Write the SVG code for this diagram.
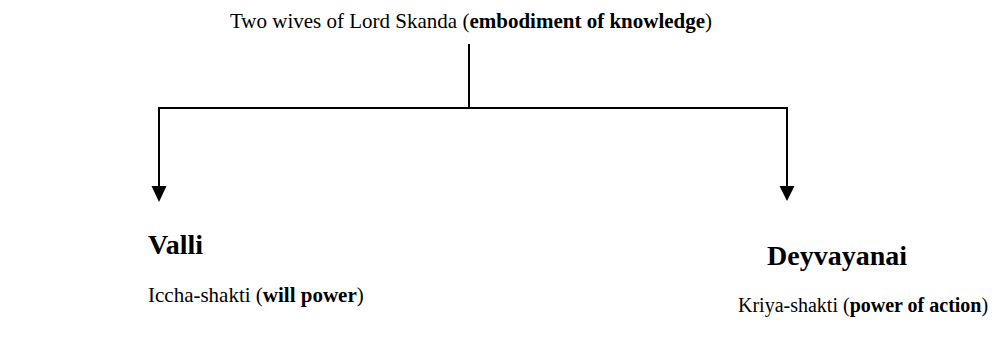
<svg xmlns="http://www.w3.org/2000/svg" width="992" height="350" viewBox="0 0 992 350">
<style>
text{font-family:"Liberation Serif","Times New Roman",serif;fill:#000;font-size:21px}
.h{font-size:28px;font-weight:bold}
.k{font-size:20px}
.b{font-weight:bold}
.ln{stroke:#000;stroke-width:2;fill:none}
.ah{fill:#000}
</style>
<rect width="992" height="350" fill="#fff"/>
<g id="root"><text x="230" y="28">Two wives of Lord Skanda (<tspan class="b">embodiment of knowledge</tspan>)</text></g>
<g id="connectors">
<line class="ln" x1="469" y1="44" x2="469" y2="108"/>
<line class="ln" x1="158" y1="108" x2="788" y2="108"/>
<path d="M159,107 V188" class="ln"/>
<path class="ah" d="M151.5,186 L166.5,186 L159,202 z"/>
<path d="M787,107 V188" class="ln"/>
<path class="ah" d="M779.5,186 L794.5,186 L787,201 z"/>
</g>
<g id="valli"><text class="h" x="148" y="254">Valli</text><text x="148" y="302">Iccha-shakti (<tspan class="b">will power</tspan>)</text></g>
<g id="deyvayanai"><text class="h" x="767" y="265">Deyvayanai</text><text class="k" x="738" y="312">Kriya-shakti (<tspan class="b">power of action</tspan>)</text></g>
</svg>
